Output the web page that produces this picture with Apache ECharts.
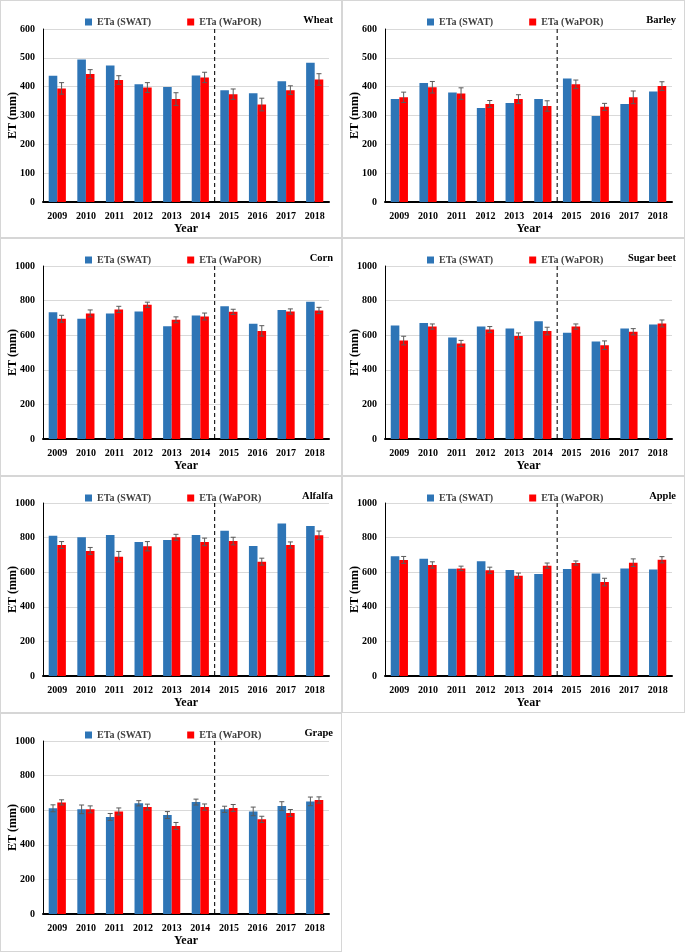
<!DOCTYPE html>
<html><head><meta charset="utf-8">
<script src="https://cdn.jsdelivr.net/npm/echarts@6.0.0/dist/echarts.min.js"></script>
<style>
html,body{margin:0;padding:0;background:#fff;width:685px;height:952px;overflow:hidden}
.p{position:absolute}
.b{position:absolute;box-sizing:border-box;border:1px solid #d6d6d6;pointer-events:none}
</style></head><body>
<script>
const years = ['2009','2010','2011','2012','2013','2014','2015','2016','2017','2018'];

const wheatSwat  = [438, 494, 473, 408, 399, 439, 388, 377, 419, 483];
const wheatWapor = [394, 444, 423, 397, 357, 432, 374, 338, 388, 425];
const wheatWaporErr = [20, 15, 15, 17, 22, 18, 18, 22, 15, 20];

const barleySwat  = [357, 413, 380, 326, 343, 357, 428, 298, 340, 383];
const barleyWapor = [363, 398, 376, 340, 357, 333, 408, 330, 363, 402];
const barleyWaporErr = [18, 20, 20, 12, 15, 18, 15, 12, 22, 15];

const cornSwat  = [732, 695, 726, 737, 652, 714, 768, 666, 745, 793];
const cornWapor = [695, 726, 749, 776, 689, 708, 735, 625, 737, 743];
const cornWaporErr = [20, 20, 18, 15, 17, 20, 15, 30, 15, 18];

const beetSwat  = [656, 670, 587, 650, 639, 681, 614, 564, 639, 662];
const beetWapor = [569, 650, 552, 633, 595, 624, 650, 542, 620, 668];
const beetWaporErr = [25, 15, 18, 17, 18, 22, 15, 25, 18, 20];

const alfalfaSwat  = [811, 802, 815, 775, 786, 815, 840, 752, 882, 867];
const alfalfaWapor = [757, 723, 690, 750, 802, 775, 780, 661, 757, 813];
const alfalfaWaporErr = [20, 20, 30, 27, 17, 22, 22, 20, 18, 25];

const appleSwat  = [692, 678, 620, 663, 613, 590, 618, 593, 622, 615];
const appleWapor = [671, 642, 622, 611, 580, 638, 653, 543, 655, 672];
const appleWaporErr = [20, 18, 13, 18, 15, 15, 12, 22, 22, 18];

const grapeSwat  = [611, 605, 561, 640, 572, 647, 605, 593, 624, 651];
const grapeSwatErr = [20, 25, 20, 15, 20, 17, 18, 25, 25, 25];
const grapeWapor = [645, 605, 593, 618, 509, 618, 613, 547, 584, 659];
const grapeWaporErr = [15, 20, 20, 17, 20, 18, 20, 18, 20, 18];

const panels = [
  {name:'Wheat', swat:wheatSwat, wapor:wheatWapor, swatErr:null, waporErr:wheatWaporErr, max:600, interval:100, l:0, t:0, w:342, h:238, zero:202, top:29},
  {name:'Barley', swat:barleySwat, wapor:barleyWapor, swatErr:null, waporErr:barleyWaporErr, max:600, interval:100, l:342, t:0, w:343, h:238, zero:202, top:29},
  {name:'Corn', swat:cornSwat, wapor:cornWapor, swatErr:null, waporErr:cornWaporErr, max:1000, interval:200, l:0, t:238, w:342, h:238, zero:201, top:28},
  {name:'Sugar beet', swat:beetSwat, wapor:beetWapor, swatErr:null, waporErr:beetWaporErr, max:1000, interval:200, l:342, t:238, w:343, h:238, zero:201, top:28},
  {name:'Alfalfa', swat:alfalfaSwat, wapor:alfalfaWapor, swatErr:null, waporErr:alfalfaWaporErr, max:1000, interval:200, l:0, t:476, w:342, h:237, zero:200, top:27},
  {name:'Apple', swat:appleSwat, wapor:appleWapor, swatErr:null, waporErr:appleWaporErr, max:1000, interval:200, l:342, t:476, w:343, h:237, zero:200, top:27},
  {name:'Grape', swat:grapeSwat, wapor:grapeWapor, swatErr:grapeSwatErr, waporErr:grapeWaporErr, max:1000, interval:200, l:0, t:713, w:342, h:239, zero:201, top:28}
];

const FONT = "'Liberation Serif','Times New Roman',serif";
const BLUE = '#2E75B6', RED = '#FF0000';

function errRender(sign){
  return function(params, api){
    const i = api.value(0), v = api.value(1), e = api.value(2);
    const band = api.size([1, 0])[0];
    const x = api.coord([i, v])[0] + sign * 0.15 * band;
    const top = api.coord([i, v + e])[1], bot = api.coord([i, v - e])[1];
    const cap = 2.5;
    const st = {stroke:'#5a5a5a', lineWidth:1};
    return {type:'group', children:[
      {type:'line', shape:{x1:x, y1:top, x2:x, y2:bot}, style:st},
      {type:'line', shape:{x1:x-cap, y1:top, x2:x+cap, y2:top}, style:st},
      {type:'line', shape:{x1:x-cap, y1:bot, x2:x+cap, y2:bot}, style:st}
    ]};
  };
}
function dividerRender(params, api){
  const i = api.value(0), ymax = api.value(1);
  const band = api.size([1, 0])[0];
  const x = api.coord([i, 0])[0] + band / 2;
  const y0 = api.coord([i, 0])[1], y1 = api.coord([i, ymax])[1];
  return {type:'line', shape:{x1:x, y1:y1, x2:x, y2:y0},
    style:{stroke:'#222', lineWidth:1.2, lineDash:[4, 3]}};
}

panels.forEach(p => {
  const d = document.createElement('div');
  d.className = 'p';
  d.style.cssText = `left:${p.l}px;top:${p.t}px;width:${p.w}px;height:${p.h}px`;
  document.body.appendChild(d);
  const b = document.createElement('div');
  b.className = 'b';
  b.style.cssText = `left:${p.l}px;top:${p.t}px;width:${p.w}px;height:${p.h}px`;
  document.body.appendChild(b);

  const chart = echarts.init(d, null, {renderer:'canvas'});
  const series = [
    {name:'ETa (SWAT)', type:'bar', data:p.swat, itemStyle:{color:BLUE},
     barGap:'0%', barCategoryGap:'40%', z:2},
    {name:'ETa (WaPOR)', type:'bar', data:p.wapor, itemStyle:{color:RED}, z:2},
    {type:'custom', name:'errW', renderItem:errRender(1), z:5,
     data:p.wapor.map((v, i) => [i, v, p.waporErr[i]])},
    {type:'custom', name:'div', renderItem:dividerRender, z:6, data:[[5, p.max]]}
  ];
  if (p.swatErr) {
    series.push({type:'custom', name:'errS', renderItem:errRender(-1), z:5,
      data:p.swat.map((v, i) => [i, v, p.swatErr[i]])});
  }
  chart.setOption({
    animation:false,
    title:{text:p.name, right:4, top:10,
      textStyle:{fontFamily:FONT, fontWeight:'bold', fontSize:10.5, color:'#000'}},
    legend:{data:['ETa (SWAT)', 'ETa (WaPOR)'], left:80, top:12, icon:'rect',
      itemWidth:7, itemHeight:7, itemGap:36,
      textStyle:{fontFamily:FONT, fontWeight:'bold', fontSize:10, color:'#404040'}},
    grid:{left:43, right:13, top:p.top, bottom:p.h - p.zero, containLabel:false, outerBoundsMode:'none'},
    xAxis:{type:'category', data:years,
      name:'Year', nameLocation:'middle', nameGap:21, nameMoveOverlap:false,
      nameTextStyle:{fontFamily:FONT, fontWeight:'bold', fontSize:12, color:'#000'},
      axisLine:{lineStyle:{color:'#000', width:2}}, axisTick:{show:false},
      axisLabel:{fontFamily:FONT, fontWeight:'bold', fontSize:10, color:'#000', margin:9, interval:0}},
    yAxis:{type:'value', min:0, max:p.max, interval:p.interval,
      name:'ET (mm)', nameLocation:'middle', nameGap:24, nameMoveOverlap:false,
      nameTextStyle:{fontFamily:FONT, fontWeight:'bold', fontSize:12, color:'#000'},
      axisLine:{show:true, lineStyle:{color:'#000', width:1}}, axisTick:{show:false},
      splitLine:{lineStyle:{color:'#d9d9d9', width:1}},
      axisLabel:{fontFamily:FONT, fontWeight:'bold', fontSize:10, color:'#000', margin:8,
        formatter:v => String(v)}},
    series:series
  });
});
</script>
</body></html>
